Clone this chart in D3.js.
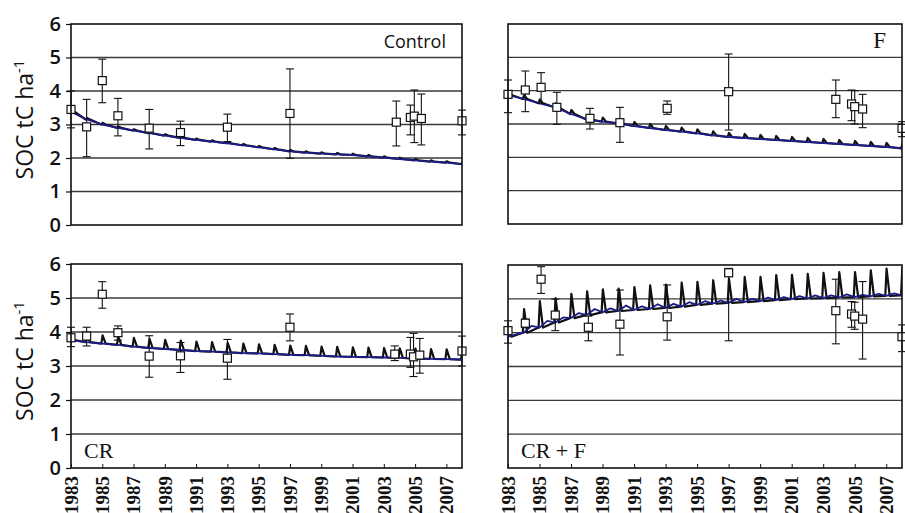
<!DOCTYPE html>
<html><head><meta charset="utf-8">
<script src="https://cdn.jsdelivr.net/npm/d3@7"></script>
<style>body{margin:0;background:#fff}</style>
</head><body>
<svg id="c" width="905" height="513"></svg>
<script>
// ---------- data ----------
const modelYears = [1983,1984,1985,1986,1987,1988,1989,1990,1991,1992,1993,1994,1995,1996,1997,1998,1999,2000,2001,2002,2003,2004,2005,2006,2007,2008];

const controlBase = [3.38,3.15,3.0,2.9,2.82,2.74,2.67,2.6,2.54,2.49,2.44,2.38,2.32,2.26,2.2,2.16,2.13,2.11,2.09,2.05,2.01,1.97,1.93,1.89,1.86,1.82];
const controlPeak = [3.42,3.19,3.05,2.94,2.86,2.78,2.71,2.64,2.58,2.53,2.48,2.42,2.36,2.3,2.24,2.2,2.17,2.15,2.13,2.09,2.05,2.01,1.97,1.93,1.9,1.86];

const fBase = [3.87,3.75,3.62,3.5,3.3,3.14,3.07,3.02,2.94,2.88,2.82,2.77,2.72,2.66,2.61,2.58,2.55,2.52,2.49,2.46,2.43,2.4,2.37,2.34,2.31,2.27];
const fPeak = [3.92,3.86,3.74,3.62,3.42,3.26,3.19,3.14,3.06,3.0,2.94,2.89,2.84,2.78,2.73,2.7,2.67,2.64,2.61,2.58,2.55,2.52,2.49,2.46,2.43,2.39];

const crBase = [3.76,3.7,3.66,3.62,3.57,3.53,3.5,3.47,3.44,3.42,3.4,3.38,3.37,3.35,3.33,3.32,3.3,3.28,3.27,3.26,3.25,3.24,3.22,3.21,3.2,3.19];
const crPeak = [3.85,3.92,3.9,3.87,3.83,3.8,3.77,3.75,3.72,3.7,3.68,3.66,3.64,3.62,3.6,3.59,3.57,3.56,3.55,3.54,3.53,3.52,3.51,3.5,3.49,3.48];

const crfBase = [3.88,4.0,4.15,4.3,4.43,4.52,4.6,4.64,4.67,4.7,4.73,4.77,4.82,4.86,4.88,4.9,4.93,4.96,4.99,5.01,5.02,5.04,5.05,5.07,5.09,5.1];
const crfPeak = [4.05,4.7,4.93,5.02,5.15,5.22,5.28,5.3,5.35,5.4,5.42,5.48,5.5,5.55,5.6,5.65,5.65,5.7,5.71,5.74,5.77,5.79,5.79,5.84,5.89,5.92];
// small mid-year bumps of the CR+F baseline
const crfMid = [3.95,4.2,4.35,4.45,4.58,4.7,4.72,4.8,4.78,4.84,4.85,4.9,4.93,4.95,5.0,5.0,5.04,5.05,5.08,5.1,5.1,5.13,5.12,5.15,5.16,5.18];

const controlObsYear = [1983,1984,1985,1986,1988,1990,1993,1997,2003.8,2004.7,2004.95,2005.4,2008];
const controlObsVal  = [3.45,2.93,4.31,3.26,2.89,2.76,2.92,3.33,3.07,3.21,3.25,3.18,3.11];
const controlObsLo   = [2.9,2.04,3.65,2.66,2.27,2.37,2.49,1.99,2.36,2.69,2.46,2.39,2.69];
const controlObsHi   = [4.0,3.75,4.95,3.78,3.45,3.1,3.31,4.66,3.7,3.58,4.03,3.91,3.43];

const fObsYear = [1983,1984.1,1985.1,1986.1,1988.2,1990.1,1993.1,1997,2003.8,2004.8,2005.0,2005.5,2008];
const fObsVal  = [3.89,4.02,4.1,3.5,3.17,3.04,3.47,3.97,3.74,3.6,3.52,3.45,2.87];
const fObsLo   = [3.34,3.37,3.62,2.99,2.85,2.45,3.29,2.82,3.19,3.1,3.0,2.89,2.62];
const fObsHi   = [4.32,4.59,4.54,3.95,3.47,3.5,3.69,5.1,4.32,4.02,4.0,3.89,3.07];

const crObsYear = [1983,1984,1985,1986,1988,1990,1993,1997,2003.7,2004.7,2004.9,2005.3,2008];
const crObsVal  = [3.83,3.88,5.11,3.98,3.29,3.3,3.23,4.14,3.35,3.35,3.27,3.32,3.44];
const crObsLo   = [3.57,3.59,4.7,3.76,2.67,2.81,2.61,3.74,3.16,2.96,2.69,2.79,3.0];
const crObsHi   = [4.14,4.14,5.48,4.18,3.89,3.69,3.78,4.53,3.59,3.84,3.96,3.81,3.88];

const crfObsYear = [1983,1984.1,1985.1,1986,1988.1,1990.1,1993.1,1997,2003.8,2004.8,2005.0,2005.5,2008];
const crfObsVal  = [4.06,4.28,5.58,4.52,4.16,4.25,4.47,5.77,4.65,4.55,4.49,4.4,3.88];
const crfObsLo   = [3.69,4.15,5.16,4.06,3.76,3.34,3.78,3.76,3.67,4.16,4.1,3.22,3.44];
const crfObsHi   = [4.35,4.4,5.95,4.99,4.49,5.26,5.41,5.9,5.58,4.92,4.9,5.51,4.23];

const yTicks = [0,1,2,3,4,5,6];
const gridValues = [1,2,3,4,5];
const xTickYears = [1983,1985,1987,1989,1991,1993,1995,1997,1999,2001,2003,2005,2007];
const panelNames = ["Control","F","CR","CR + F"];
const yTitle = "SOC tC ha";
const yTitleSup = "-1";

// ---------- layout ----------
const SANS = "'Open Sans', 'DejaVu Sans', sans-serif";
const SERIF = "'Liberation Serif', 'Times New Roman', serif";
const svg = d3.select("#c");
const panels = [
  {name:panelNames[0], x0:71,  x1:462, y0:24,  y1:225, base:controlBase, peak:controlPeak, mid:null, oy:controlObsYear, ov:controlObsVal, lo:controlObsLo, hi:controlObsHi, left:true,  bottom:false, labelPos:"tr", serif:false},
  {name:panelNames[1], x0:508, x1:902, y0:24,  y1:224, base:fBase, peak:fPeak, mid:null, oy:fObsYear, ov:fObsVal, lo:fObsLo, hi:fObsHi, left:false, bottom:false, labelPos:"tr", serif:true},
  {name:panelNames[2], x0:71,  x1:462, y0:264, y1:468, base:crBase, peak:crPeak, mid:null, oy:crObsYear, ov:crObsVal, lo:crObsLo, hi:crObsHi, left:true,  bottom:true, labelPos:"bl", serif:true},
  {name:panelNames[3], x0:508, x1:902, y0:265, y1:468, base:crfBase, peak:crfPeak, mid:crfMid, oy:crfObsYear, ov:crfObsVal, lo:crfObsLo, hi:crfObsHi, left:false, bottom:true, labelPos:"bl", serif:true}
];

panels.forEach((p, pi) => {
  const x = d3.scaleLinear().domain([1983, 2008]).range([p.x0, p.x1]);
  const y = d3.scaleLinear().domain([0, 6]).range([p.y1, p.y0]);
  const g = svg.append("g");

  const clipId = "clip" + pi;
  svg.append("clipPath").attr("id", clipId).append("rect")
    .attr("x", p.x0).attr("y", p.y0).attr("width", p.x1 - p.x0).attr("height", p.y1 - p.y0);

  // grid
  g.selectAll(".grid").data(gridValues).join("line")
    .attr("x1", p.x0).attr("x2", p.x1)
    .attr("y1", d => y(d)).attr("y2", d => y(d))
    .attr("stroke", "#3a3a3a").attr("stroke-width", 1.3);

  // model lines
  const line = d3.line().x(d => x(d[0])).y(d => y(d[1]));
  const lg = g.append("g").attr("clip-path", `url(#${clipId})`);
  const blackPts = [];
  modelYears.forEach((yr, i) => {
    blackPts.push([yr - 0.06, p.base[i]]);
    blackPts.push([yr + 0.02, p.peak[i]]);
    blackPts.push([yr + 0.22, p.base[i]]);
  });
  lg.append("path").datum(blackPts).attr("d", line)
    .attr("fill", "none").attr("stroke", "#111").attr("stroke-width", 2.2).attr("stroke-linejoin", "round");
  const bluePts = [];
  modelYears.forEach((yr, i) => {
    bluePts.push([yr, p.base[i]]);
    if (p.mid) bluePts.push([yr + 0.5, p.mid[i]]);
  });
  lg.append("path").datum(bluePts).attr("d", line)
    .attr("fill", "none").attr("stroke", "#1c1c8a").attr("stroke-width", 1.8).attr("stroke-linejoin", "round");

  // observations
  const obs = p.oy.map((yr, i) => ({yr, v: p.ov[i], lo: p.lo[i], hi: p.hi[i]}));
  const og = g.append("g");
  og.selectAll(".eb").data(obs).join("line")
    .attr("x1", d => x(d.yr)).attr("x2", d => x(d.yr))
    .attr("y1", d => y(d.lo)).attr("y2", d => y(d.hi))
    .attr("stroke", "#111").attr("stroke-width", 1.1);
  og.selectAll(".capH").data(obs).join("line")
    .attr("x1", d => x(d.yr) - 4).attr("x2", d => x(d.yr) + 4)
    .attr("y1", d => y(d.hi)).attr("y2", d => y(d.hi))
    .attr("stroke", "#111").attr("stroke-width", 1.1);
  og.selectAll(".capL").data(obs).join("line")
    .attr("x1", d => x(d.yr) - 4).attr("x2", d => x(d.yr) + 4)
    .attr("y1", d => y(d.lo)).attr("y2", d => y(d.lo))
    .attr("stroke", "#111").attr("stroke-width", 1.1);
  og.selectAll(".sq").data(obs).join("rect")
    .attr("x", d => x(d.yr) - 4).attr("y", d => y(d.v) - 4)
    .attr("width", 8).attr("height", 8)
    .attr("fill", "#fff").attr("stroke", "#111").attr("stroke-width", 1.2);

  // frame
  g.append("rect").attr("x", p.x0).attr("y", p.y0)
    .attr("width", p.x1 - p.x0).attr("height", p.y1 - p.y0)
    .attr("fill", "none").attr("stroke", "#111").attr("stroke-width", 1.6);

  // y axis
  if (p.left) {
    const ya = d3.axisLeft(y).tickValues(yTicks).tickSize(5).tickPadding(5).tickFormat(d3.format("d"));
    const ag = svg.append("g").attr("transform", `translate(${p.x0},0)`).call(ya);
    ag.attr("font-family", null).attr("font-size", null);
    ag.select(".domain").remove();
    ag.selectAll("line").attr("stroke", "#111").attr("stroke-width", 1.2);
    ag.selectAll("text").style("font-family", SANS).style("font-size", "20px")
      .style("font-weight", "600").attr("fill", "#111");
    svg.append("text")
      .attr("transform", `translate(33,${(p.y0 + p.y1) / 2 - 5}) rotate(-90)`)
      .attr("text-anchor", "middle")
      .style("font-family", SANS).style("font-size", "23px").style("font-weight", "500")
      .attr("fill", "#111")
      .text(yTitle)
      .append("tspan").attr("dy", -9).style("font-size", "15px").text(yTitleSup);
  }

  // x axis
  if (p.bottom) {
    const xa = d3.axisBottom(x).tickValues(xTickYears).tickSize(-4).tickPadding(10).tickFormat(d3.format("d"));
    const ag = svg.append("g").attr("transform", `translate(0,${p.y1})`).call(xa);
    ag.attr("font-family", null).attr("font-size", null);
    ag.select(".domain").remove();
    ag.selectAll("line").attr("stroke", "#111").attr("stroke-width", 1);
    ag.selectAll("text")
      .style("font-family", SERIF).style("font-size", "19px").style("font-weight", "bold")
      .attr("fill", "#111")
      .attr("transform", "rotate(-90)")
      .attr("text-anchor", "end")
      .attr("x", -8).attr("y", 0).attr("dy", "0.33em");
  }

  // panel label
  if (p.labelPos === "tr") {
    svg.append("text")
      .attr("x", p.x1 - 16).attr("y", p.y0 + 24)
      .attr("text-anchor", "end")
      .style("font-family", p.serif ? SERIF : SANS)
      .style("font-size", p.serif ? "23px" : "18px")
      .attr("fill", "#111").text(p.name);
  } else {
    svg.append("text")
      .attr("x", p.x0 + 13).attr("y", p.y1 - 10)
      .style("font-family", SERIF).style("font-size", "22px")
      .attr("fill", "#111").text(p.name);
  }
});
</script>
</body></html>
